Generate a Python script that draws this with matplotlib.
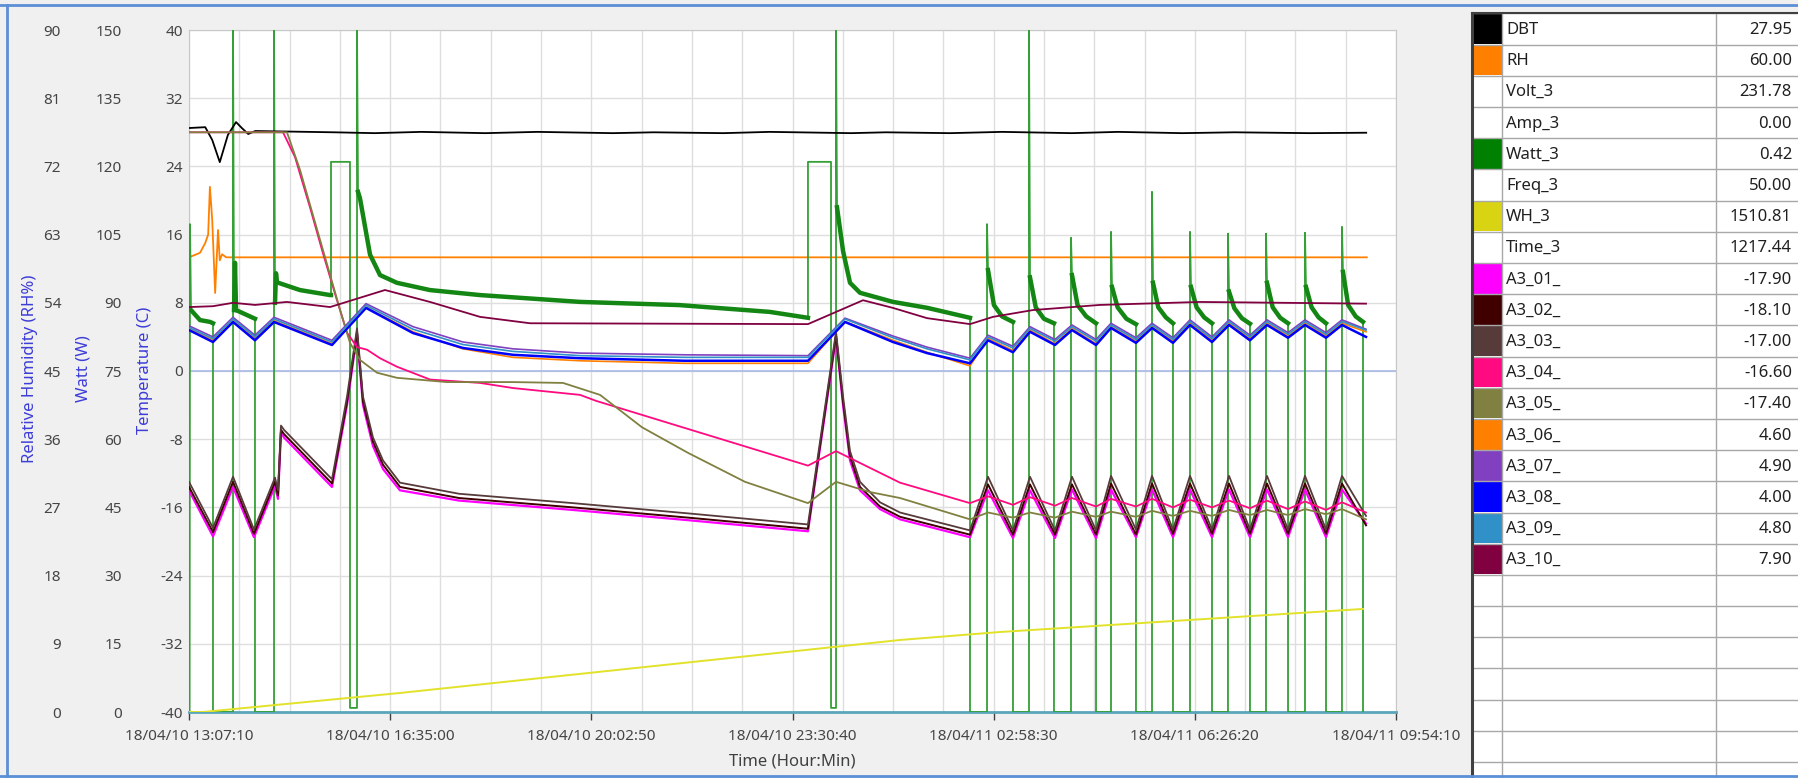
import numpy as np
import matplotlib
matplotlib.use("Agg")
import matplotlib.pyplot as plt
from matplotlib.patches import Rectangle

plt.rcParams["font.family"] = ["Noto Sans", "DejaVu Sans"]
plt.rcParams["axes.unicode_minus"] = False

# ---- data (time = hours after 18/04/10 13:07:10) ----
span_h = 20.7833
time_labels = ["18/04/10 13:07:10", "18/04/10 16:35:00", "18/04/10 20:02:50",
               "18/04/10 23:30:40", "18/04/11 02:58:30", "18/04/11 06:26:20",
               "18/04/11 09:54:10"]

dbt_t = [0, 0.28, 0.40, 0.53, 0.67, 0.81, 0.91, 1.02, 1.14, 2.5, 3.2, 4.0, 5.1, 6.0, 7.3, 8.0,
         9.2, 10.0, 11.4, 12.0, 13.1, 14.0, 15.2, 16.0, 17.1, 18.0, 19.3, 20.27]
dbt_v = [28.5, 28.6, 27.1, 24.5, 27.7, 29.2, 28.5, 27.8, 28.15, 28.0, 27.9, 28.05, 27.9, 28.05,
         27.9, 28.0, 27.9, 28.05, 27.9, 28.0, 27.9, 28.05, 27.9, 28.05, 27.9, 28.0, 27.9, 27.95]

rh_t = [0, 0.19, 0.28, 0.33, 0.36, 0.40, 0.45, 0.50, 0.53, 0.57, 0.64, 20.28]
rh_v = [60.0, 60.6, 61.9, 63.0, 69.3, 64.9, 55.3, 63.6, 59.6, 60.4, 60.0, 60.0]

watt_t = [0.000, 0.010, 0.017, 0.034, 0.189, 0.362, 0.413, 0.413, 0.758, 0.758, 0.775, 0.792, 0.810,
          1.136, 1.136, 1.464, 1.464, 1.481, 1.498, 1.515, 1.911, 2.428, 2.445, 2.445, 2.772, 2.772,
          2.893, 2.893, 2.910, 2.944, 3.117, 3.289, 3.580, 4.150, 5.010, 6.730, 8.440, 10.000,
          10.658, 10.658, 11.055, 11.055, 11.141, 11.141, 11.158, 11.262, 11.382, 11.554, 12.122,
          12.708, 13.448, 13.448,
          13.741, 13.741, 13.758, 13.860, 14.000, 14.188, 14.188,
          14.464, 14.464, 14.481, 14.580, 14.720, 14.894, 14.894,
          15.187, 15.187, 15.204, 15.300, 15.450, 15.618, 15.618,
          15.876, 15.876, 15.893, 15.990, 16.140, 16.306, 16.306,
          16.582, 16.582, 16.599, 16.690, 16.820, 16.943, 16.943,
          17.236, 17.236, 17.253, 17.350, 17.480, 17.615, 17.615,
          17.890, 17.890, 17.907, 18.000, 18.130, 18.269, 18.269,
          18.545, 18.545, 18.562, 18.660, 18.790, 18.924, 18.924,
          19.216, 19.216, 19.233, 19.330, 19.450, 19.578, 19.578,
          19.853, 19.853, 19.870, 19.960, 20.090, 20.215, 20.215]
watt_v = [0, 0, 107.3, 88.4, 86.2, 85.8, 85.5, 0, 0, 150, 88.4, 98.8, 88.4,
          86.5, 0, 0, 150, 90.0, 96.5, 94.5, 92.8, 91.7, 91.7, 121.0, 121.0, 0.9,
          0.9, 150, 114.4, 113.0, 100.6, 96.1, 94.4, 92.8, 91.7, 90.2, 89.5, 88.0,
          86.7, 121.0, 121.0, 0.9, 0.9, 150, 111.0, 101.4, 94.4, 92.2, 90.2,
          88.9, 86.7, 0,
          0, 107.3, 97.2, 89.5, 87.0, 85.8, 0,
          0, 150, 95.6, 89.0, 86.5, 85.5, 0,
          0, 104.3, 96.1, 89.5, 87.0, 85.5, 0,
          0, 105.6, 93.5, 89.0, 86.5, 85.3, 0,
          0, 114.4, 94.4, 89.0, 86.8, 85.5, 0,
          0, 105.6, 93.5, 89.0, 86.8, 85.5, 0,
          0, 105.2, 92.5, 88.8, 86.6, 85.4, 0,
          0, 105.2, 94.4, 89.0, 86.7, 85.5, 0,
          0, 105.4, 93.5, 89.0, 86.8, 85.5, 0,
          0, 106.7, 96.8, 89.5, 87.0, 85.8, 0]

wh_t = [0, 0.241, 3.633, 12.243, 13.965, 20.215]
wh_v = [0, 0, 279, 1056, 1173, 1510.81]

# cycling part shared by the probes
cyc_t = [13.758, 14.188, 14.481, 14.911, 15.204, 15.618, 15.876, 16.306, 16.582, 16.943,
         17.236, 17.615, 17.908, 18.269, 18.562, 18.924, 19.216, 19.578, 19.853, 20.267]

fz_t = [0, 0.413, 0.758, 1.119, 1.481, 1.532, 1.584, 1.636, 2.462, 2.721, 2.893, 2.996, 3.168,
        3.341, 3.633, 4.649, 6.612, 8.592, 10.658, 11.141, 11.262, 11.382, 11.554, 11.898,
        12.243, 13.448] + cyc_t
a3_01 = [-14.0, -19.4, -13.6, -19.5, -13.5, -15.0, -7.2, -7.8, -13.6, -4.0, 4.3, -4.0, -8.8,
         -11.5, -14.0, -15.2, -16.3, -17.5, -18.8, 3.9, -4.0, -10.5, -14.0, -16.2, -17.4, -19.5,
         -14.0, -19.6, -14.0, -19.6, -13.9, -19.6, -13.9, -19.5, -13.9, -19.5, -13.9, -19.5,
         -13.9, -19.5, -13.9, -19.5, -13.9, -19.5, -13.9, -17.9]
a3_02 = [-13.6, -18.9, -13.0, -19.1, -13.0, -14.6, -6.9, -7.4, -13.2, -3.6, 4.6, -3.6, -8.3,
         -11.0, -13.6, -14.9, -16.0, -17.2, -18.5, 4.2, -3.6, -10.0, -13.6, -15.9, -17.1, -19.2,
         -13.3, -19.2, -13.3, -19.2, -13.3, -19.2, -13.2, -19.2, -13.2, -19.1, -13.2, -19.1,
         -13.2, -19.1, -13.2, -19.1, -13.2, -19.1, -13.2, -18.1]
a3_03 = [-13.0, -18.4, -12.4, -18.6, -12.5, -14.0, -6.4, -6.9, -12.7, -3.0, 5.0, -3.0, -7.8,
         -10.5, -13.1, -14.4, -15.5, -16.7, -18.0, 4.6, -3.0, -9.4, -13.0, -15.4, -16.6, -18.7,
         -12.4, -18.7, -12.4, -18.7, -12.4, -18.7, -12.3, -18.6, -12.3, -18.6, -12.3, -18.6,
         -12.3, -18.6, -12.3, -18.6, -12.3, -18.6, -12.3, -17.0]

a3_04_t = [0, 1.619, 1.825, 2.083, 2.307, 2.548, 2.721, 2.893, 3.065, 3.289, 3.582, 4.150,
           5.011, 5.579, 6.733, 7.008, 10.658, 11.141, 12.243, 13.448] + cyc_t
a3_04 = [28.0, 28.0, 25.1, 19.2, 13.8, 8.3, 4.5, 2.8, 2.5, 1.5, 0.5, -1.0,
         -1.4, -2.0, -2.8, -3.5, -11.1, -9.4, -13.1, -15.5,
         -14.7, -15.7, -14.8, -15.8, -14.9, -15.9, -15.0, -15.9, -15.0, -16.0,
         -15.1, -16.0, -15.2, -16.1, -15.2, -16.2, -15.3, -16.3, -15.4, -16.6]

a3_05_t = [0, 1.687, 1.911, 2.256, 2.600, 2.772, 2.944, 3.237, 3.582, 4.443, 5.579, 6.440,
           7.077, 7.800, 8.592, 9.574, 10.658, 11.141, 11.726, 12.243, 13.448] + cyc_t
a3_05 = [28.0, 28.0, 23.6, 15.4, 7.2, 3.3, 1.3, -0.2, -0.8, -1.3, -1.3, -1.4,
         -2.8, -6.6, -9.6, -13.0, -15.5, -13.0, -14.2, -14.9, -17.4,
         -16.6, -17.2, -16.6, -17.2, -16.5, -17.1, -16.5, -17.1, -16.4, -17.0,
         -16.4, -17.0, -16.3, -16.9, -16.3, -16.9, -16.2, -16.8, -16.2, -17.4]

fr_t = [0, 0.413, 0.758, 1.136, 1.464, 2.462, 3.048, 3.857, 4.718, 5.579, 6.733, 8.541,
        10.658, 11.296, 12.122, 12.708, 13.448] + cyc_t
a3_06 = [5.0, 3.6, 5.9, 3.8, 5.9, 3.2, 7.5, 4.6, 2.6, 1.6, 1.2, 0.9, 0.9, 5.8, 3.6, 2.2, 0.6,
         3.8, 2.4, 4.8, 3.2, 5.0, 3.2, 5.2, 3.5, 5.2, 3.5, 5.6, 3.6, 5.6, 3.8, 5.6, 4.1, 5.6, 4.1, 5.6, 4.6]
a3_07 = [5.3, 4.0, 6.3, 4.2, 6.3, 3.6, 7.9, 5.2, 3.4, 2.6, 2.1, 1.9, 1.8, 6.2, 4.1, 2.8, 1.5,
         4.2, 2.9, 5.2, 3.7, 5.4, 3.7, 5.6, 3.9, 5.6, 3.9, 6.0, 4.0, 6.0, 4.2, 6.0, 4.5, 6.0, 4.5, 6.0, 4.9]
a3_08 = [4.8, 3.4, 5.75, 3.6, 5.75, 3.05, 7.4, 4.45, 2.7, 1.9, 1.5, 1.2, 1.2, 5.75, 3.4, 2.1, 0.9,
         3.6, 2.2, 4.6, 3.05, 4.8, 3.05, 5.05, 3.3, 5.05, 3.3, 5.4, 3.4, 5.4, 3.6, 5.4, 3.9, 5.4, 3.9, 5.4, 4.0]
a3_09 = [5.1, 3.8, 6.1, 4.0, 6.1, 3.4, 7.7, 4.9, 3.1, 2.3, 1.8, 1.6, 1.6, 6.1, 3.9, 2.6, 1.3,
         4.0, 2.7, 5.0, 3.5, 5.2, 3.5, 5.4, 3.7, 5.4, 3.7, 5.8, 3.8, 5.8, 4.0, 5.8, 4.3, 5.8, 4.3, 5.8, 4.8]

a3_10_t = [0, 0.413, 0.758, 1.136, 1.687, 2.428, 3.375, 4.150, 5.011, 5.872, 10.658, 11.606,
           12.122, 12.708, 13.448, 13.844, 14.533, 15.687, 17.408, 20.267]
a3_10 = [7.5, 7.6, 8.0, 7.75, 8.1, 7.5, 9.5, 8.1, 6.35, 5.6, 5.5, 8.3, 7.4, 6.2, 5.5, 6.35,
         7.15, 7.75, 8.1, 7.9]

# legend table
tab_names = ["DBT", "RH", "Volt_3", "Amp_3", "Watt_3", "Freq_3", "WH_3", "Time_3",
             "A3_01_", "A3_02_", "A3_03_", "A3_04_", "A3_05_", "A3_06_", "A3_07_",
             "A3_08_", "A3_09_", "A3_10_"]
tab_values = ["27.95", "60.00", "231.78", "0.00", "0.42", "50.00", "1510.81", "1217.44",
              "-17.90", "-18.10", "-17.00", "-16.60", "-17.40", "4.60", "4.90", "4.00",
              "4.80", "7.90"]
tab_colors = ["#000000", "#ff8000", "#ffffff", "#ffffff", "#008000", "#ffffff", "#d8d414",
              "#ffffff", "#ff00ff", "#400000", "#573b3b", "#ff0a80", "#808040", "#ff8000",
              "#8040c0", "#0000ff", "#3090c8", "#800040"]

# ---- figure ----
W, H = 1798, 778
fig = plt.figure(figsize=(W / 100, H / 100), dpi=100, facecolor="#f0f0f0")

ax = fig.add_axes([189 / W, (H - 712) / H, 1207 / W, 682 / H])
ax.set_facecolor("white")
ax.set_xlim(0, span_h)
ax.set_ylim(-40, 40)
temp_ticks = list(range(-40, 41, 8))
ax.set_yticks(temp_ticks)
ax.set_yticklabels([str(v) for v in temp_ticks])
ax.set_xticks([span_h * i / 6 for i in range(7)])
ax.set_xticklabels(time_labels)
ax.set_xticks([span_h * i / 24 for i in range(25)], minor=True)
ax.grid(True, which="both", color="#dedede", lw=1)
ax.tick_params(axis="y", length=0, pad=4.3, labelsize=11, labelcolor="#454545")
ax.tick_params(axis="x", which="major", length=6, width=1, color="#404040",
               pad=6, labelsize=11, labelcolor="#454545")
ax.tick_params(axis="x", which="minor", length=0)
for s in ["top", "right", "left"]:
    ax.spines[s].set_color("#c8c8c8")
ax.spines["bottom"].set_color("#5aa5b8")
ax.spines["bottom"].set_linewidth(2)
ax.axhline(0, color="#a9b9e6", lw=1.2)


def side_axis(ylim, ticks, out_px):
    a = ax.twinx()
    a.set_ylim(*ylim)
    a.yaxis.tick_left()
    a.spines["left"].set_position(("outward", out_px * 0.72))
    for s in a.spines.values():
        s.set_visible(False)
    a.set_yticks(ticks)
    a.set_yticklabels([str(v) for v in ticks])
    a.tick_params(axis="y", length=0, pad=4.3, labelsize=11, labelcolor="#454545")
    return a


ax_rh = side_axis((0, 90), list(range(0, 91, 9)), 122)
ax_w = side_axis((0, 150), list(range(0, 151, 15)), 61)
ax_wh = ax.twinx()
ax_wh.set_ylim(0, 10000)
ax_wh.axis("off")
ax_t = ax.twinx()
ax_t.set_ylim(-40, 40)
ax_t.axis("off")

ax_rh.plot(rh_t, rh_v, color="#ff8000", lw=1.3)

wt = np.array(watt_t)
wv = np.array(watt_v)
ax_w.plot(wt, wv, color="#35a035", lw=1.3)
# noisy "on" level drawn as a thicker band (skip the start-up spikes)
prev = np.concatenate([[0.0], wv[:-1]])
band = np.where((wv >= 84) & (wv <= 116) & (prev != 0), wv, np.nan)
ax_w.plot(wt, band, color="#138613", lw=3.2)

ax_wh.plot(wh_t, wh_v, color="#e2e22a", lw=1.4)

ax_t.plot(dbt_t, dbt_v, color="black", lw=1.3)
ax_t.plot(fz_t, a3_01, color="#ff00ff", lw=1.6)
ax_t.plot(fz_t, a3_02, color="#400000", lw=1.4)
ax_t.plot(fz_t, a3_03, color="#573b3b", lw=1.3)
ax_t.plot(a3_04_t, a3_04, color="#ff0a80", lw=1.3)
ax_t.plot(a3_05_t, a3_05, color="#808040", lw=1.3)
ax_t.plot(fr_t, a3_06, color="#ff8000", lw=1.2)
ax_t.plot(fr_t, a3_07, color="#8040c0", lw=1.2)
ax_t.plot(fr_t, a3_08, color="#0000ff", lw=1.8)
ax_t.plot(fr_t, a3_09, color="#3090c8", lw=1.2)
ax_t.plot(a3_10_t, a3_10, color="#800040", lw=1.3)

# axis titles
lab = dict(rotation=90, ha="center", va="center", color="#3c3cd8", fontsize=12)
fig.text(30 / W, 1 - 369 / H, "Relative Humidity (RH%)", **lab)
fig.text(83 / W, 1 - 369 / H, "Watt (W)", **lab)
fig.text(145 / W, 1 - 370 / H, "Temperature (C)", **lab)
fig.text(792 / W, 1 - 761 / H, "Time (Hour:Min)", ha="center", va="center",
         color="#404040", fontsize=12)

# legend table + window frame, drawn in pixel units
ov = fig.add_axes([0, 0, 1, 1])
ov.set_xlim(0, W)
ov.set_ylim(H, 0)
ov.axis("off")
ov.patch.set_visible(False)
top, rh = 13.3, 31.2
ov.add_patch(Rectangle((1472, top), 326, H - top, facecolor="white", edgecolor="none"))
nrows = int((H - top) / rh) + 1
for i in range(nrows):
    y0 = top + i * rh
    ov.plot([1472, 1798], [y0, y0], color="#a8a8a8", lw=1)
    if i < len(tab_names):
        ov.add_patch(Rectangle((1473, y0 + 0.5), 29, rh - 1, facecolor=tab_colors[i],
                               edgecolor="none"))
        ov.text(1506, y0 + rh / 2 + 1, tab_names[i], ha="left", va="center",
                fontsize=12, color="#202020")
        ov.text(1792, y0 + rh / 2 + 1, tab_values[i], ha="right", va="center",
                fontsize=12, color="#202020")
for xx in [1502, 1716]:
    ov.plot([xx, xx], [top, H], color="#a8a8a8", lw=1)
ov.plot([1472, 1472], [top, H], color="#404040", lw=2.2)
ov.plot([1472, 1798], [top, top], color="#404040", lw=1.5)
ov.plot([0, W], [5, 5], color="#5b8fd6", lw=2)
ov.plot([0, W], [H - 2, H - 2], color="#5b8fd6", lw=2)
ov.plot([7, 7], [5, H], color="#5b8fd6", lw=2)

fig.savefig("out.png", dpi=100, facecolor=fig.get_facecolor())
